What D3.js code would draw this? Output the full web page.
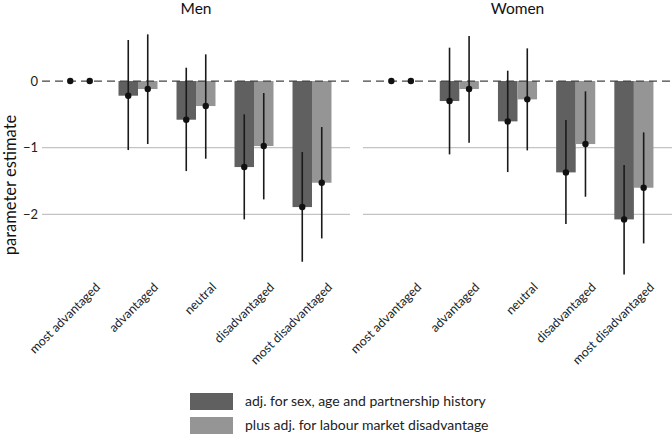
<!DOCTYPE html>
<html><head><meta charset="utf-8">
<script src="https://cdn.jsdelivr.net/npm/d3@7"></script>
<style>body{margin:0;background:#fff}svg{display:block}text{font-family:Lato,"Open Sans",sans-serif}</style>
</head><body><svg id="c" width="672" height="434"></svg>
<script>
const categories = ["most advantaged","advantaged","neutral","disadvantaged","most disadvantaged"];
const panels = ["Men","Women"];
const seriesNames = ["adj. for sex, age and partnership history","plus adj. for labour market disadvantage"];
const yTicks = [0,-1,-2];

const menEst1 = [0,-0.22,-0.58,-1.29,-1.89];
const menLo1  = [0,-1.035,-1.35,-2.075,-2.71];
const menHi1  = [0,0.615,0.20,-0.50,-1.065];
const menEst2 = [0,-0.12,-0.375,-0.975,-1.525];
const menLo2  = [0,-0.945,-1.165,-1.775,-2.36];
const menHi2  = [0,0.70,0.40,-0.18,-0.69];

const womenEst1 = [0,-0.30,-0.605,-1.37,-2.075];
const womenLo1  = [0,-1.10,-1.365,-2.145,-2.90];
const womenHi1  = [0,0.50,0.155,-0.585,-1.26];
const womenEst2 = [0,-0.12,-0.275,-0.945,-1.60];
const womenLo2  = [0,-0.925,-1.04,-1.735,-2.435];
const womenHi2  = [0,0.675,0.49,-0.155,-0.77];

const colors = ["#606060","#959595"];

const panelData = [
  [{est:menEst1,lo:menLo1,hi:menHi1},{est:menEst2,lo:menLo2,hi:menHi2}],
  [{est:womenEst1,lo:womenLo1,hi:womenHi1},{est:womenEst2,lo:womenLo2,hi:womenHi2}]
];
const panelRanges = [[42,350],[363,672]];

const svg = d3.select("#c");
const y = d3.scaleLinear().domain([-3,1.2]).range([281.1,1]);

// y tick labels
svg.append("g").selectAll("text").data(yTicks).join("text")
  .attr("x",38).attr("y",d=>y(d)).attr("dy","0.35em").attr("text-anchor","end")
  .attr("font-size",13).attr("fill","#222").text(d=>d3.format("d")(d));

svg.append("text").attr("transform",`translate(16,${185}) rotate(-90)`)
  .attr("text-anchor","middle").attr("font-size",16.5).attr("fill","#111").text("parameter estimate");

panels.forEach((p,pi)=>{
  const [x0,x1] = panelRanges[pi];
  const x = d3.scaleBand().domain(categories).range([x0,x1]).paddingInner(0.328).paddingOuter(0.319);
  const xs = d3.scaleBand().domain([0,1]).range([0,x.bandwidth()]);
  const g = svg.append("g");
  // gridlines
  g.selectAll("line.grid").data(yTicks.filter(t=>t!==0)).join("line")
    .attr("x1",x0).attr("x2",x1).attr("y1",d=>y(d)).attr("y2",d=>y(d))
    .attr("stroke","#c4c4c4").attr("stroke-width",1.2);
  // title
  g.append("text").attr("x",(x0+x1)/2).attr("y",14).attr("text-anchor","middle")
    .attr("font-size",15.5).attr("fill","#111").text(p);
  // bars
  panelData[pi].forEach((s,si)=>{
    g.selectAll(null).data(categories).join("rect")
      .attr("x",c=>x(c)+xs(si)).attr("width",xs.bandwidth())
      .attr("y",(c,i)=>Math.min(y(0),y(s.est[i])))
      .attr("height",(c,i)=>Math.abs(y(s.est[i])-y(0)))
      .attr("fill",colors[si]);
  });
  // zero dashed line
  g.append("line").attr("x1",x0).attr("x2",x1).attr("y1",y(0)).attr("y2",y(0))
    .attr("stroke","#444").attr("stroke-width",1.2).attr("stroke-dasharray","8,5");
  // error bars + points
  panelData[pi].forEach((s,si)=>{
    const cx = c=>x(c)+xs(si)+xs.bandwidth()/2;
    g.selectAll(null).data(categories).join("line")
      .attr("x1",cx).attr("x2",cx)
      .attr("y1",(c,i)=>y(s.hi[i])).attr("y2",(c,i)=>y(s.lo[i]))
      .attr("stroke","#1a1a1a").attr("stroke-width",1.6);
    g.selectAll(null).data(categories).join("circle")
      .attr("cx",cx).attr("cy",(c,i)=>y(s.est[i])).attr("r",3.2).attr("fill","#111");
  });
  // x labels
  g.selectAll("text.xl").data(categories).join("text")
    .attr("transform",c=>`translate(${x(c)+x.bandwidth()/2+21},${288}) rotate(-45)`)
    .attr("text-anchor","end").attr("font-size",12.5).attr("fill","#222").text(c=>c);
});

// legend
const lg = svg.append("g");
seriesNames.forEach((n,i)=>{
  lg.append("rect").attr("x",190).attr("y",393+i*24).attr("width",43).attr("height",17).attr("fill",colors[i]);
  lg.append("text").attr("x",245).attr("y",406+i*24).attr("font-size",14).attr("fill","#222").text(n);
});
</script></body></html>
